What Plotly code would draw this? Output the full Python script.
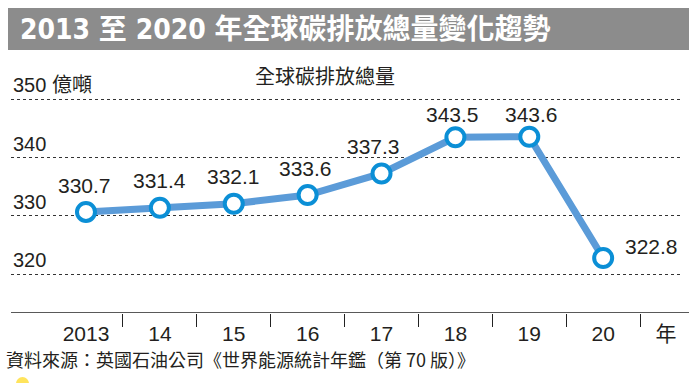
import plotly.graph_objects as go

# ---- data ----
years = [2013, 2014, 2015, 2016, 2017, 2018, 2019, 2020]
emissions = [330.7, 331.4, 332.1, 333.6, 337.3, 343.5, 343.6, 322.8]
value_labels = ["330.7", "331.4", "332.1", "333.6", "337.3", "343.5", "343.6", "322.8"]
x_tick_vals = [2013, 2014, 2015, 2016, 2017, 2018, 2019, 2020, 2020.85]
x_tick_text = ["2013", "14", "15", "16", "17", "18", "19", "20", "年"]
x_sep_vals = [2013.5, 2014.5, 2015.5, 2016.5, 2017.5, 2018.5, 2019.5, 2020.5]
y_tick_vals = [320, 330, 340, 350]
y_tick_text = ["320", "330", "340", "350 億噸"]
title_text = "2013 至 2020 年全球碳排放總量變化趨勢"
subtitle_text = "全球碳排放總量"
source_text = "資料來源：英國石油公司《世界能源統計年鑑（第 70 版）》"

# label offsets (style)
lab_dx = [-1, 0, 0, -2, -8, -3, 2, 20]
lab_dy = [26, 27, 27, 27, 27, 23, 22, 11]
lab_anchor = ["center"] * 7 + ["left"]

W, H = 689, 383
L, R, T, B = 11, 9, 70, 70
XR = [2011.985, 2021.04]
YR = [313.36, 355.04]

NUM_FONT = "Liberation Sans, Arial, sans-serif"
NARROW = "Liberation Sans Narrow, DejaVu Sans Condensed, Liberation Sans, sans-serif"
CJK = "Noto Sans CJK TC, Noto Sans CJK SC, sans-serif"
TXT = "#231f20"

fig = go.Figure()

fig.add_trace(go.Scatter(
    x=years, y=emissions, mode="lines+markers",
    line=dict(color="#5b9bd8", width=7),
    marker=dict(size=18, color="white", line=dict(color="#0b8fd6", width=4)),
    hoverinfo="skip", showlegend=False, xaxis="x", yaxis="y",
))

# invisible trace on the label axis
fig.add_trace(go.Scatter(
    x=[years[0]], y=[emissions[0]], mode="markers",
    marker=dict(size=1, opacity=0), hoverinfo="skip", showlegend=False,
    xaxis="x2", yaxis="y",
))

for i, (xv, yv, t) in enumerate(zip(years, emissions, value_labels)):
    fig.add_annotation(
        x=xv, y=yv, xref="x", yref="y", text=t, showarrow=False,
        xanchor=lab_anchor[i], yanchor="middle",
        xshift=lab_dx[i], yshift=lab_dy[i],
        font=dict(family=NUM_FONT, size=21, color=TXT),
    )

# y tick labels, placed on the y scale just above each gridline
for yv, t in zip(y_tick_vals, y_tick_text):
    fig.add_annotation(
        x=0, y=yv, xref="paper", yref="y", text=t, showarrow=False,
        xanchor="left", yanchor="bottom", yshift=1,
        font=dict(family="Liberation Sans, Arial, " + CJK, size=20, color=TXT),
    )

PW = W - L - R
PH = H - T - B


def px_x(p):
    return (p - L) / PW


def px_y(p):
    return (H - B - p) / PH


fig.update_layout(
    width=W, height=H,
    margin=dict(l=L, r=R, t=T, b=B, pad=0),
    paper_bgcolor="white", plot_bgcolor="white",
    xaxis=dict(
        range=XR, domain=[0, 1], showgrid=False, zeroline=False,
        showline=False, tickmode="array", tickvals=x_sep_vals,
        ticktext=[""] * len(x_sep_vals), ticks="outside", ticklen=13,
        tickwidth=1, tickcolor="#222",
    ),
    xaxis2=dict(
        range=XR, overlaying="x", anchor="y", side="bottom",
        showgrid=False, zeroline=False, showline=False,
        tickmode="array", tickvals=x_tick_vals, ticktext=x_tick_text,
        ticks="", ticklabelstandoff=6,
        tickfont=dict(family=NUM_FONT + ", " + CJK, size=21, color=TXT),
    ),
    yaxis=dict(
        range=YR, showgrid=True, gridcolor="#333", griddash="dot",
        gridwidth=1, zeroline=False, showline=False,
        tickmode="array", tickvals=y_tick_vals, showticklabels=False,
        ticks="",
    ),
    shapes=[
        dict(type="rect", xref="paper", yref="paper",
             x0=px_x(8), x1=px_x(W), y0=px_y(50), y1=px_y(8),
             fillcolor="#8c8c8c", line=dict(width=0), layer="below"),
        dict(type="line", xref="paper", yref="y",
             x0=0, x1=px_x(W), y0=YR[0], y1=YR[0],
             line=dict(color="#222", width=1.5)),
        dict(type="circle", xref="paper", yref="paper",
             x0=px_x(16), x1=px_x(29), y0=px_y(390), y1=px_y(377),
             fillcolor="#ffe45c", line=dict(width=0)),
    ],
    annotations=list(fig.layout.annotations) + [
        dict(text="<b>" + title_text + "</b>", xref="paper", yref="paper",
             x=px_x(18), y=px_y(29),
             xanchor="left", yanchor="middle", showarrow=False,
             font=dict(family=NARROW + ", " + CJK, size=28, color="white")),
        dict(text=subtitle_text, xref="paper", yref="paper",
             x=px_x(325), y=px_y(75),
             xanchor="center", yanchor="middle", showarrow=False,
             font=dict(family=CJK, size=20, color=TXT)),
        dict(text=source_text, xref="paper", yref="paper",
             x=px_x(4), y=px_y(359),
             xanchor="left", yanchor="middle", showarrow=False,
             font=dict(family=CJK, size=18, color=TXT)),
    ],
)

fig.write_html(
    "out.html",
    config={"displayModeBar": False},
    post_script="document.body.style.margin='0';document.body.style.padding='0';",
)
